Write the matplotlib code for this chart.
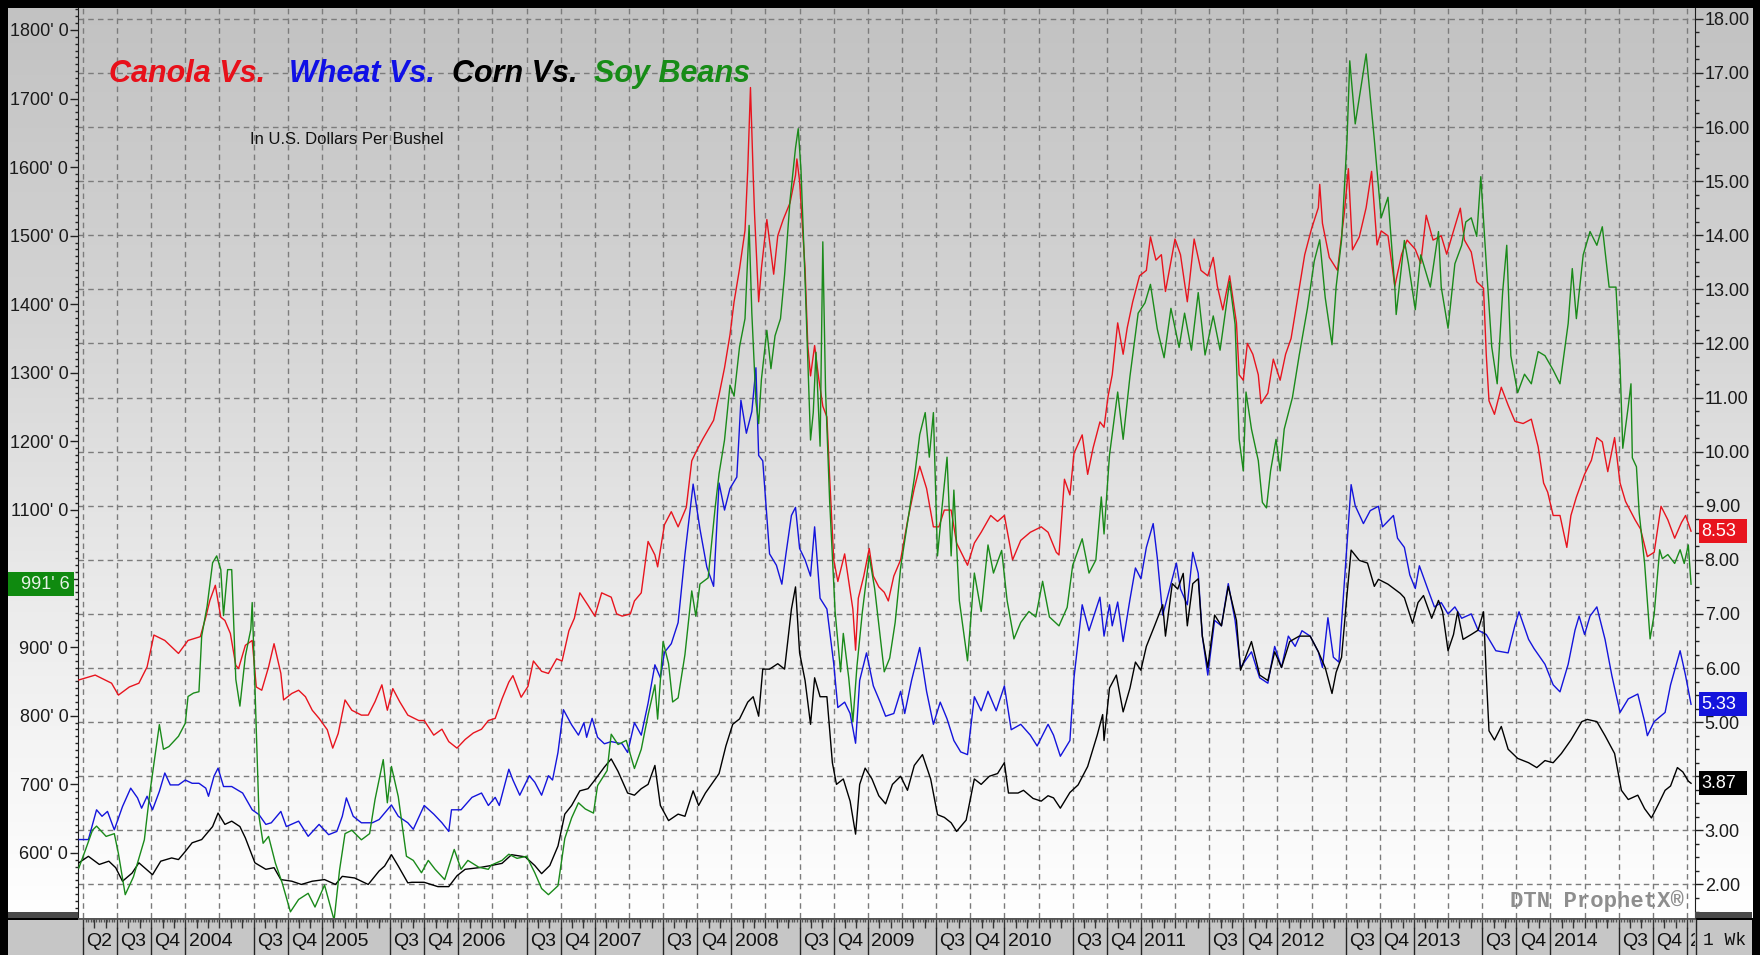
import numpy as np
import matplotlib.pyplot as plt
from matplotlib import font_manager as fm
from matplotlib.patches import Rectangle
from matplotlib.colors import LinearSegmentedColormap
from matplotlib.transforms import blended_transform_factory
from matplotlib.ticker import MultipleLocator, FuncFormatter, FixedLocator


def pick(*names):
    for n in names:
        try:
            fm.findfont(fm.FontProperties(family=n), fallback_to_default=False)
            return n
        except Exception:
            pass
    return 'DejaVu Sans'


NARROW = pick('Liberation Sans Narrow', 'Liberation Sans', 'DejaVu Sans')
MONO = pick('Liberation Mono', 'DejaVu Sans Mono')
plt.rcParams['font.family'] = [NARROW, 'DejaVu Sans']

# ---- data (weekly closes) ----
# canola, USD / bushel (right axis)
canola_t = [2003.22, 2003.34, 2003.46, 2003.51, 2003.59, 2003.66, 2003.72, 2003.77, 2003.85, 2003.95,
            2004.02, 2004.11, 2004.15, 2004.18, 2004.22, 2004.26, 2004.29, 2004.33, 2004.37, 2004.39,
            2004.44, 2004.49, 2004.52, 2004.56, 2004.61, 2004.65, 2004.70, 2004.72, 2004.78, 2004.83,
            2004.88, 2004.93, 2004.98, 2005.04, 2005.08, 2005.12, 2005.17, 2005.22, 2005.29, 2005.34,
            2005.39, 2005.44, 2005.48, 2005.52, 2005.57, 2005.63, 2005.71, 2005.75, 2005.82, 2005.88,
            2005.93, 2005.99, 2006.05, 2006.11, 2006.17, 2006.22, 2006.27, 2006.32, 2006.37, 2006.40,
            2006.46, 2006.51, 2006.55, 2006.61, 2006.66, 2006.72, 2006.76, 2006.81, 2006.85, 2006.89,
            2006.95, 2007.00, 2007.05, 2007.12, 2007.16, 2007.20, 2007.26, 2007.29, 2007.34, 2007.39,
            2007.44, 2007.46, 2007.51, 2007.56, 2007.61, 2007.67, 2007.71, 2007.74, 2007.79, 2007.87,
            2007.91, 2007.95, 2007.99, 2008.02, 2008.06, 2008.10, 2008.12, 2008.14, 2008.16, 2008.17,
            2008.20, 2008.22, 2008.26, 2008.28, 2008.31, 2008.34, 2008.38, 2008.43, 2008.47, 2008.48,
            2008.50, 2008.54, 2008.56, 2008.58, 2008.61, 2008.64, 2008.67, 2008.70, 2008.72, 2008.75,
            2008.78, 2008.83, 2008.86, 2008.89, 2008.91, 2008.93, 2008.97, 2009.01, 2009.04, 2009.08,
            2009.12, 2009.15, 2009.19, 2009.24, 2009.29, 2009.34, 2009.38, 2009.43, 2009.48, 2009.52,
            2009.56, 2009.61, 2009.65, 2009.73, 2009.78, 2009.83, 2009.90, 2009.95, 2010.00, 2010.06,
            2010.12, 2010.19, 2010.27, 2010.32, 2010.38, 2010.40, 2010.44, 2010.48, 2010.51, 2010.57,
            2010.61, 2010.65, 2010.70, 2010.73, 2010.76, 2010.79, 2010.83, 2010.87, 2010.90, 2010.94,
            2010.99, 2011.04, 2011.07, 2011.11, 2011.15, 2011.18, 2011.25, 2011.29, 2011.34, 2011.39,
            2011.44, 2011.49, 2011.53, 2011.56, 2011.60, 2011.65, 2011.70, 2011.72, 2011.75, 2011.78,
            2011.82, 2011.86, 2011.88, 2011.93, 2011.97, 2012.02, 2012.06, 2012.10, 2012.15, 2012.20,
            2012.25, 2012.30, 2012.31, 2012.33, 2012.38, 2012.44, 2012.49, 2012.52, 2012.55, 2012.60,
            2012.65, 2012.69, 2012.73, 2012.76, 2012.81, 2012.86, 2012.91, 2012.95, 2013.01, 2013.05,
            2013.09, 2013.14, 2013.20, 2013.24, 2013.29, 2013.34, 2013.37, 2013.42, 2013.46, 2013.51,
            2013.53, 2013.55, 2013.59, 2013.64, 2013.69, 2013.74, 2013.80, 2013.86, 2013.91, 2013.95,
            2013.98, 2014.02, 2014.07, 2014.12, 2014.15, 2014.19, 2014.25, 2014.30, 2014.34, 2014.38,
            2014.42, 2014.47, 2014.51, 2014.55, 2014.62, 2014.66, 2014.71, 2014.76, 2014.81, 2014.86,
            2014.91, 2014.96, 2014.99, 2015.03]
canola = [5.78, 5.87, 5.72, 5.50, 5.65, 5.72, 6.02, 6.61, 6.51, 6.27,
          6.51, 6.58, 6.94, 7.25, 7.53, 6.94, 6.88, 6.64, 6.05, 5.99,
          6.42, 6.51, 5.65, 5.59, 6.02, 6.45, 5.90, 5.41, 5.53, 5.59,
          5.47, 5.22, 5.07, 4.86, 4.52, 4.79, 5.41, 5.22, 5.13, 5.13,
          5.38, 5.69, 5.22, 5.62, 5.38, 5.13, 5.03, 5.03, 4.76, 4.87,
          4.64, 4.52, 4.68, 4.80, 4.87, 5.03, 5.07, 5.43, 5.74, 5.86,
          5.46, 5.66, 6.13, 5.94, 5.90, 6.17, 6.13, 6.69, 6.92, 7.39,
          7.16, 6.96, 7.39, 7.31, 7.00, 6.96, 7.00, 7.24, 7.39, 8.34,
          8.09, 7.87, 8.65, 8.89, 8.61, 8.97, 9.83, 9.99, 10.23, 10.58,
          11.05, 11.55, 12.16, 12.77, 13.38, 14.09, 15.21, 16.73, 15.11, 14.39,
          12.77, 13.38, 14.29, 13.88, 13.28, 13.99, 14.29, 14.60, 15.11, 15.41,
          15.00, 13.38, 11.96, 11.40, 11.96, 11.35, 10.84, 10.64, 9.53, 8.00,
          7.60, 8.11, 7.60, 7.09, 6.33, 7.29, 7.70, 8.21, 7.70, 7.50,
          7.40, 7.24, 7.70, 8.00, 8.71, 9.32, 9.73, 9.32, 8.61, 8.61,
          8.92, 8.92, 8.31, 7.90, 8.31, 8.51, 8.82, 8.71, 8.82, 8.00,
          8.36, 8.51, 8.61, 8.51, 8.14, 8.09, 9.49, 9.20, 9.97, 10.31,
          9.58, 10.07, 10.55, 10.45, 11.03, 11.42, 12.38, 11.80, 12.29, 12.77,
          13.25, 13.35, 13.97, 13.54, 13.64, 12.96, 13.93, 13.64, 12.77, 13.93,
          13.35, 13.25, 13.59, 13.06, 12.62, 13.25, 12.38, 11.42, 11.32, 12.00,
          11.80, 11.42, 10.89, 11.08, 11.71, 11.32, 11.80, 12.09, 12.86, 13.64,
          14.12, 14.51, 14.94, 14.22, 13.59, 13.35, 14.41, 15.23, 13.73, 13.97,
          14.51, 15.18, 13.82, 14.08, 13.99, 13.06, 13.65, 13.91, 13.74, 13.48,
          14.37, 13.91, 13.99, 13.65, 14.08, 14.50, 13.91, 13.69, 13.14, 13.02,
          11.79, 10.94, 10.69, 11.19, 10.86, 10.56, 10.52, 10.60, 10.09, 9.42,
          9.25, 8.82, 8.82, 8.23, 8.82, 9.16, 9.58, 9.84, 10.26, 10.18,
          9.63, 10.26, 9.42, 9.08, 8.74, 8.57, 8.06, 8.14, 8.99, 8.74,
          8.40, 8.69, 8.82, 8.53]

# wheat, USD / bushel (right axis)
wheat_t = [2003.22, 2003.29, 2003.35, 2003.39, 2003.43, 2003.48, 2003.54, 2003.60, 2003.65, 2003.68,
           2003.72, 2003.76, 2003.81, 2003.85, 2003.89, 2003.95, 2004.00, 2004.05, 2004.10, 2004.15,
           2004.17, 2004.21, 2004.24, 2004.28, 2004.34, 2004.42, 2004.49, 2004.54, 2004.59, 2004.63,
           2004.70, 2004.74, 2004.83, 2004.90, 2004.98, 2005.05, 2005.11, 2005.15, 2005.18, 2005.23,
           2005.29, 2005.37, 2005.42, 2005.46, 2005.51, 2005.56, 2005.63, 2005.67, 2005.75, 2005.82,
           2005.88, 2005.93, 2005.95, 2006.02, 2006.10, 2006.17, 2006.22, 2006.27, 2006.30, 2006.37,
           2006.40, 2006.45, 2006.52, 2006.56, 2006.61, 2006.66, 2006.69, 2006.73, 2006.77, 2006.83,
           2006.88, 2006.92, 2006.94, 2006.98, 2007.02, 2007.07, 2007.12, 2007.20, 2007.24, 2007.29,
           2007.34, 2007.39, 2007.44, 2007.48, 2007.51, 2007.56, 2007.61, 2007.66, 2007.72, 2007.77,
           2007.82, 2007.87, 2007.91, 2007.95, 2007.99, 2008.04, 2008.07, 2008.11, 2008.15, 2008.18,
           2008.20, 2008.23, 2008.28, 2008.33, 2008.37, 2008.40, 2008.44, 2008.47, 2008.50, 2008.54,
           2008.58, 2008.61, 2008.65, 2008.70, 2008.75, 2008.78, 2008.83, 2008.87, 2008.91, 2008.94,
           2008.99, 2009.04, 2009.09, 2009.13, 2009.19, 2009.24, 2009.27, 2009.32, 2009.38, 2009.43,
           2009.48, 2009.53, 2009.58, 2009.63, 2009.68, 2009.73, 2009.78, 2009.83, 2009.88, 2009.94,
           2010.00, 2010.05, 2010.12, 2010.19, 2010.24, 2010.32, 2010.36, 2010.41, 2010.48, 2010.51,
           2010.57, 2010.62, 2010.70, 2010.73, 2010.77, 2010.79, 2010.83, 2010.87, 2010.92, 2010.96,
           2011.00, 2011.04, 2011.09, 2011.12, 2011.16, 2011.22, 2011.26, 2011.29, 2011.34, 2011.38,
           2011.42, 2011.45, 2011.49, 2011.54, 2011.59, 2011.64, 2011.69, 2011.73, 2011.81, 2011.87,
           2011.93, 2011.98, 2012.03, 2012.08, 2012.13, 2012.18, 2012.24, 2012.30, 2012.33, 2012.37,
           2012.41, 2012.45, 2012.49, 2012.54, 2012.57, 2012.63, 2012.68, 2012.74, 2012.77, 2012.85,
           2012.88, 2012.93, 2012.97, 2013.01, 2013.04, 2013.10, 2013.15, 2013.20, 2013.25, 2013.30,
           2013.35, 2013.42, 2013.47, 2013.53, 2013.60, 2013.69, 2013.74, 2013.77, 2013.84, 2013.88,
           2013.96, 2014.02, 2014.07, 2014.13, 2014.18, 2014.21, 2014.25, 2014.29, 2014.34, 2014.40,
           2014.45, 2014.51, 2014.57, 2014.64, 2014.69, 2014.71, 2014.76, 2014.84, 2014.88, 2014.95,
           2014.99, 2015.03]
wheat = [2.83, 2.83, 3.38, 3.26, 3.35, 3.01, 3.44, 3.78, 3.60, 3.41,
         3.63, 3.38, 3.72, 4.06, 3.84, 3.84, 3.93, 3.87, 3.87, 3.78,
         3.63, 4.00, 4.15, 3.81, 3.81, 3.69, 3.38, 3.29, 3.11, 3.14,
         3.35, 3.07, 3.17, 2.89, 3.11, 2.92, 2.98, 3.26, 3.60, 3.26,
         3.14, 3.14, 3.20, 3.32, 3.47, 3.26, 3.14, 3.02, 3.46, 3.30,
         3.14, 2.98, 3.38, 3.38, 3.61, 3.69, 3.46, 3.61, 3.46, 4.13,
         3.93, 3.65, 4.01, 3.89, 3.65, 4.01, 3.93, 4.44, 5.23, 4.95,
         4.76, 4.99, 4.72, 5.07, 4.72, 4.60, 4.64, 4.60, 4.44, 4.99,
         4.76, 5.35, 6.06, 5.82, 6.29, 6.45, 6.84, 8.10, 9.40, 8.57,
         7.87, 7.51, 9.42, 8.92, 9.32, 9.53, 10.95, 10.34, 10.74, 11.55,
         9.93, 9.83, 8.11, 7.90, 7.55, 8.11, 8.82, 8.97, 8.21, 8.00,
         7.70, 8.61, 7.29, 7.09, 6.08, 5.27, 5.37, 5.16, 4.61, 5.77,
         6.28, 5.67, 5.37, 5.11, 5.16, 5.57, 5.16, 5.77, 6.38, 5.57,
         4.96, 5.37, 5.06, 4.66, 4.45, 4.40, 5.47, 5.21, 5.57, 5.21,
         5.67, 4.86, 4.96, 4.76, 4.56, 4.96, 4.76, 4.37, 4.66, 5.82,
         7.17, 6.69, 7.31, 6.59, 7.17, 6.78, 7.22, 6.49, 7.27, 7.85,
         7.65, 8.23, 8.67, 8.04, 6.98, 7.56, 7.94, 7.46, 7.17, 8.14,
         7.75, 6.59, 5.87, 6.88, 6.78, 7.56, 6.88, 6.01, 6.30, 5.82,
         5.72, 6.40, 6.01, 6.59, 6.40, 6.69, 6.59, 6.30, 6.01, 6.93,
         6.20, 6.11, 7.56, 9.39, 9.00, 8.67, 8.91, 8.99, 8.61, 8.82,
         8.40, 8.23, 7.72, 7.47, 7.89, 7.47, 7.13, 7.21, 7.00, 7.13,
         6.92, 7.00, 6.70, 6.62, 6.32, 6.28, 6.79, 7.04, 6.53, 6.36,
         6.07, 5.69, 5.56, 6.07, 6.70, 6.96, 6.62, 6.96, 7.13, 6.53,
         5.86, 5.18, 5.43, 5.52, 5.01, 4.75, 5.01, 5.18, 5.69, 6.32,
         5.86, 5.33]

# corn, USD / bushel (right axis)
corn_t = [2003.22, 2003.29, 2003.37, 2003.44, 2003.49, 2003.54, 2003.61, 2003.66, 2003.76, 2003.82,
          2003.90, 2003.95, 2004.00, 2004.05, 2004.12, 2004.20, 2004.24, 2004.29, 2004.34, 2004.40,
          2004.44, 2004.51, 2004.59, 2004.65, 2004.70, 2004.78, 2004.85, 2004.93, 2005.02, 2005.10,
          2005.15, 2005.24, 2005.34, 2005.42, 2005.46, 2005.51, 2005.56, 2005.63, 2005.66, 2005.75,
          2005.85, 2005.93, 2005.99, 2006.05, 2006.15, 2006.24, 2006.32, 2006.39, 2006.49, 2006.56,
          2006.61, 2006.67, 2006.73, 2006.78, 2006.83, 2006.89, 2006.95, 2007.00, 2007.07, 2007.12,
          2007.17, 2007.24, 2007.29, 2007.34, 2007.39, 2007.44, 2007.48, 2007.54, 2007.61, 2007.66,
          2007.72, 2007.76, 2007.81, 2007.91, 2007.96, 2008.01, 2008.06, 2008.12, 2008.16, 2008.20,
          2008.23, 2008.28, 2008.34, 2008.39, 2008.44, 2008.47, 2008.50, 2008.54, 2008.58, 2008.61,
          2008.65, 2008.70, 2008.74, 2008.77, 2008.82, 2008.87, 2008.91, 2008.94, 2008.98, 2009.03,
          2009.08, 2009.13, 2009.18, 2009.24, 2009.29, 2009.34, 2009.40, 2009.46, 2009.51, 2009.56,
          2009.61, 2009.65, 2009.72, 2009.78, 2009.83, 2009.89, 2009.95, 2010.00, 2010.03, 2010.10,
          2010.14, 2010.21, 2010.27, 2010.32, 2010.36, 2010.41, 2010.48, 2010.54, 2010.61, 2010.68,
          2010.72, 2010.73, 2010.77, 2010.82, 2010.87, 2010.92, 2010.96, 2011.00, 2011.04, 2011.10,
          2011.16, 2011.18, 2011.23, 2011.27, 2011.31, 2011.34, 2011.38, 2011.42, 2011.45, 2011.49,
          2011.54, 2011.59, 2011.64, 2011.70, 2011.73, 2011.81, 2011.87, 2011.93, 2011.98, 2012.03,
          2012.09, 2012.16, 2012.24, 2012.30, 2012.35, 2012.40, 2012.43, 2012.47, 2012.51, 2012.54,
          2012.60, 2012.66, 2012.71, 2012.74, 2012.81, 2012.90, 2012.93, 2012.99, 2013.03, 2013.07,
          2013.13, 2013.18, 2013.21, 2013.25, 2013.29, 2013.32, 2013.36, 2013.42, 2013.47, 2013.51,
          2013.53, 2013.55, 2013.59, 2013.64, 2013.69, 2013.76, 2013.84, 2013.90, 2013.96, 2014.02,
          2014.08, 2014.15, 2014.23, 2014.27, 2014.34, 2014.40, 2014.47, 2014.52, 2014.57, 2014.64,
          2014.69, 2014.74, 2014.79, 2014.84, 2014.88, 2014.93, 2014.97, 2015.01, 2015.03]
corn = [2.40, 2.52, 2.37, 2.43, 2.31, 2.06, 2.21, 2.40, 2.18, 2.43,
        2.49, 2.46, 2.61, 2.77, 2.83, 3.07, 3.32, 3.11, 3.17, 3.07,
        2.86, 2.40, 2.28, 2.31, 2.09, 2.06, 2.00, 2.06, 2.09, 2.00,
        2.15, 2.12, 2.00, 2.25, 2.34, 2.55, 2.34, 2.03, 2.04, 2.04,
        1.96, 1.96, 2.16, 2.28, 2.31, 2.35, 2.39, 2.55, 2.51, 2.35,
        2.20, 2.35, 2.71, 3.30, 3.46, 3.73, 3.77, 3.93, 4.17, 4.32,
        4.09, 3.69, 3.65, 3.77, 3.85, 4.20, 3.46, 3.18, 3.30, 3.26,
        3.73, 3.46, 3.69, 4.05, 4.56, 4.96, 5.06, 5.37, 5.47, 5.11,
        5.98, 5.98, 6.08, 5.98, 7.09, 7.50, 6.28, 5.77, 4.96, 5.82,
        5.47, 5.47, 4.25, 3.85, 3.95, 3.54, 2.93, 3.85, 4.15, 3.95,
        3.64, 3.49, 3.85, 4.00, 3.74, 4.20, 4.40, 3.95, 3.29, 3.24,
        3.14, 2.98, 3.19, 3.95, 3.85, 4.00, 4.05, 4.25, 3.69, 3.69,
        3.74, 3.59, 3.54, 3.64, 3.60, 3.41, 3.70, 3.84, 4.18, 4.76,
        5.14, 4.66, 5.63, 5.87, 5.19, 5.63, 6.11, 5.96, 6.40, 6.78,
        7.17, 6.59, 7.56, 7.46, 7.75, 6.78, 7.56, 7.65, 6.59, 6.01,
        6.98, 6.78, 7.51, 6.88, 5.96, 6.49, 5.87, 5.77, 6.30, 6.01,
        6.49, 6.59, 6.59, 6.30, 6.01, 5.53, 5.92, 6.20, 7.36, 8.18,
        7.99, 7.94, 7.51, 7.64, 7.55, 7.38, 7.30, 6.83, 7.21, 7.34,
        6.92, 7.25, 7.04, 6.32, 6.62, 7.04, 6.53, 6.62, 6.70, 7.04,
        5.86, 4.84, 4.67, 4.92, 4.50, 4.33, 4.25, 4.16, 4.29, 4.25,
        4.42, 4.67, 5.01, 5.05, 5.01, 4.75, 4.42, 3.74, 3.57, 3.65,
        3.40, 3.23, 3.48, 3.74, 3.82, 4.16, 4.08, 3.91, 3.87]

# soybeans, cents / bushel (left axis)
soy_t = [2003.22, 2003.27, 2003.32, 2003.35, 2003.42, 2003.48, 2003.51, 2003.56, 2003.62, 2003.70,
         2003.74, 2003.81, 2003.84, 2003.88, 2003.95, 2004.00, 2004.02, 2004.06, 2004.10, 2004.12,
         2004.16, 2004.20, 2004.23, 2004.26, 2004.28, 2004.31, 2004.34, 2004.37, 2004.40, 2004.44,
         2004.48, 2004.49, 2004.51, 2004.54, 2004.57, 2004.61, 2004.66, 2004.71, 2004.77, 2004.83,
         2004.90, 2004.95, 2005.02, 2005.09, 2005.13, 2005.17, 2005.22, 2005.29, 2005.35, 2005.39,
         2005.45, 2005.48, 2005.51, 2005.56, 2005.62, 2005.67, 2005.73, 2005.78, 2005.83, 2005.90,
         2005.97, 2006.02, 2006.07, 2006.15, 2006.22, 2006.24, 2006.32, 2006.37, 2006.43, 2006.50,
         2006.56, 2006.61, 2006.66, 2006.73, 2006.78, 2006.83, 2006.88, 2006.93, 2006.99, 2007.02,
         2007.09, 2007.12, 2007.17, 2007.23, 2007.29, 2007.34, 2007.39, 2007.44, 2007.46, 2007.50,
         2007.54, 2007.57, 2007.61, 2007.66, 2007.71, 2007.74, 2007.77, 2007.83, 2007.88, 2007.91,
         2007.95, 2007.99, 2008.02, 2008.06, 2008.10, 2008.13, 2008.15, 2008.18, 2008.20, 2008.22,
         2008.26, 2008.29, 2008.32, 2008.36, 2008.39, 2008.43, 2008.47, 2008.49, 2008.51, 2008.54,
         2008.58, 2008.60, 2008.62, 2008.65, 2008.67, 2008.69, 2008.72, 2008.76, 2008.80, 2008.82,
         2008.86, 2008.89, 2008.92, 2008.96, 2009.01, 2009.05, 2009.12, 2009.16, 2009.20, 2009.24,
         2009.29, 2009.34, 2009.38, 2009.42, 2009.45, 2009.48, 2009.51, 2009.54, 2009.58, 2009.61,
         2009.63, 2009.67, 2009.73, 2009.78, 2009.83, 2009.88, 2009.92, 2009.98, 2010.02, 2010.07,
         2010.12, 2010.18, 2010.23, 2010.28, 2010.33, 2010.40, 2010.46, 2010.50, 2010.57, 2010.62,
         2010.67, 2010.71, 2010.73, 2010.77, 2010.83, 2010.87, 2010.92, 2010.98, 2011.03, 2011.07,
         2011.12, 2011.17, 2011.22, 2011.28, 2011.32, 2011.37, 2011.42, 2011.47, 2011.53, 2011.58,
         2011.65, 2011.69, 2011.72, 2011.75, 2011.77, 2011.81, 2011.86, 2011.89, 2011.92, 2011.95,
         2011.99, 2012.02, 2012.05, 2012.11, 2012.16, 2012.22, 2012.27, 2012.31, 2012.35, 2012.40,
         2012.43, 2012.47, 2012.51, 2012.53, 2012.57, 2012.60, 2012.65, 2012.71, 2012.76, 2012.81,
         2012.86, 2012.87, 2012.93, 2012.96, 2013.01, 2013.05, 2013.12, 2013.18, 2013.20, 2013.25,
         2013.30, 2013.35, 2013.38, 2013.42, 2013.46, 2013.49, 2013.53, 2013.57, 2013.61, 2013.65,
         2013.68, 2013.71, 2013.76, 2013.81, 2013.86, 2013.91, 2013.96, 2014.02, 2014.07, 2014.13,
         2014.16, 2014.19, 2014.24, 2014.29, 2014.34, 2014.38, 2014.43, 2014.48, 2014.51, 2014.53,
         2014.57, 2014.59, 2014.60, 2014.63, 2014.65, 2014.69, 2014.73, 2014.76, 2014.80, 2014.82,
         2014.86, 2014.91, 2014.95, 2014.98, 2015.01, 2015.03]
soy = [578, 605, 633, 639, 624, 628, 599, 539, 565, 619,
       687, 787, 751, 755, 770, 789, 828, 833, 835, 916,
       960, 1023, 1033, 1013, 946, 1013, 1013, 853, 814, 887,
       926, 965, 843, 653, 614, 624, 585, 556, 514, 532,
       541, 521, 553, 502, 575, 628, 633, 619, 628, 678,
       736, 673, 726, 682, 595, 589, 571, 589, 576, 561,
       605, 576, 589, 579, 576, 582, 589, 598, 592, 595,
       571, 548, 539, 552, 621, 651, 673, 664, 658, 698,
       720, 773, 758, 764, 723, 751, 801, 845, 795, 908,
       876, 820, 826, 889, 982, 945, 992, 1001, 1101, 1153,
       1202, 1282, 1266, 1338, 1379, 1515, 1387, 1258, 1226, 1290,
       1362, 1306, 1354, 1379, 1443, 1552, 1628, 1656, 1596, 1435,
       1202, 1242, 1330, 1193, 1491, 1274, 1113, 952, 864, 920,
       855, 791, 872, 952, 1033, 985, 864, 884, 936, 1016,
       1081, 1146, 1210, 1242, 1177, 1242, 1033, 1097, 1177, 1033,
       1129, 968, 880, 1008, 952, 1049, 1008, 1041, 968, 912,
       936, 952, 944, 996, 944, 931, 958, 1019, 1058, 1008,
       1027, 1119, 1065, 1180, 1272, 1203, 1295, 1387, 1402, 1429,
       1364, 1322, 1394, 1337, 1387, 1333, 1417, 1326, 1383, 1333,
       1433, 1371, 1203, 1157, 1272, 1218, 1172, 1111, 1103, 1157,
       1203, 1157, 1218, 1264, 1326, 1394, 1463, 1494, 1410, 1341,
       1425, 1494, 1640, 1755, 1663, 1701, 1765, 1640, 1526, 1556,
       1425, 1385, 1493, 1459, 1392, 1472, 1425, 1506, 1425, 1365,
       1459, 1486, 1520, 1526, 1499, 1586, 1459, 1338, 1284, 1418,
       1486, 1325, 1271, 1298, 1284, 1331, 1325, 1304, 1284, 1372,
       1452, 1379, 1472, 1506, 1486, 1513, 1425, 1425, 1311, 1190,
       1251, 1284, 1176, 1163, 1096, 1022, 912, 948, 1042, 1029,
       1035, 1022, 1042, 1022, 1049, 991.75]

years = list(range(2004, 2016))
title_parts = [('Canola Vs.', '#e8101a'), ('Wheat Vs.', '#1010e6'),
               ('Corn Vs.', '#000000'), ('Soy Beans', '#178c17')]

RED, BLUE, BLACK, GREEN = '#e8141e', '#1414dc', '#000000', '#1a8a1a'

W, H = 1760, 955


def fx(px):
    return px / W


def fy(py):
    return 1 - py / H


fig = plt.figure(figsize=(W / 100, H / 100), dpi=100)
fig.patch.set_facecolor('black')

# gradient backdrop behind panels and plot
bg = fig.add_axes([fx(8), fy(918), fx(1752) - fx(8), fy(8) - fy(918)])
cmap = LinearSegmentedColormap.from_list('bg', ['#c2c2c2', '#d4d4d4', '#ececec', '#ffffff'])
bg.imshow(np.linspace(0, 1, 256).reshape(-1, 1), aspect='auto', cmap=cmap,
          extent=[0, 1, 0, 1], origin='upper')
bg.axis('off')

# main plot: dollars on the right, cents (soy) on the left
ax = fig.add_axes([fx(78), fy(918), fx(1695) - fx(78), fy(8) - fy(918)])
ax.set_facecolor('none')
ax.set_xlim(2003.214, 2015.059)
ax.set_ylim(1.38, 18.2)
quarters = np.arange(2003.25, 2015.01, 0.25)
ax.xaxis.set_major_locator(FixedLocator(quarters))
ax.tick_params(axis='x', length=0, labelbottom=False)
ax.grid(True, which='major', color='#7c7c7c', linestyle=(0, (4, 3)), linewidth=1.0)
for s in ('top', 'bottom'):
    ax.spines[s].set_visible(False)
for s in ('left', 'right'):
    ax.spines[s].set_color('#1e1e1e')

ax.plot(canola_t, canola, color=RED, lw=1.0, zorder=3)
ax.plot(wheat_t, wheat, color=BLUE, lw=1.0, zorder=3)
ax.plot(corn_t, corn, color=BLACK, lw=1.0, zorder=3)

ax2 = ax.twinx()
ax2.set_ylim(505, 1832)
ax2.plot(soy_t, soy, color=GREEN, lw=1.0, zorder=3)
for s in ax2.spines.values():
    s.set_visible(False)

last_right = [canola[-1], wheat[-1], corn[-1]]


def right_fmt(v, p):
    # the last-value boxes sit on top of the scale and hide nearby labels
    if any(abs(v - b) < 0.3 for b in last_right):
        return ''
    return f'{v:.2f}'


def left_fmt(v, p):
    if abs(v - soy[-1]) < 30:
        return ''
    return f"{int(v)}' 0"


# dollar scale on the right, cents scale on the left
ax.yaxis.tick_right()
ax.yaxis.set_major_locator(MultipleLocator(1))
ax.yaxis.set_minor_locator(MultipleLocator(0.25))
ax.yaxis.set_major_formatter(FuncFormatter(right_fmt))
ax.tick_params(axis='y', which='major', direction='out', length=6, width=1, color='#222222',
               labelsize=13, labelcolor='#1a1a1a', pad=1, left=False, labelleft=False,
               right=True, labelright=True)
ax.tick_params(axis='y', which='minor', direction='out', length=3, width=1, color='#222222',
               left=False, right=True)

ax2.yaxis.tick_left()
ax2.yaxis.set_major_locator(MultipleLocator(100))
ax2.yaxis.set_minor_locator(MultipleLocator(10))
ax2.yaxis.set_major_formatter(FuncFormatter(left_fmt))
ax2.tick_params(axis='y', which='major', direction='out', length=6, width=1, color='#222222',
                labelsize=13, labelcolor='#1a1a1a', pad=1, right=False, labelright=False,
                left=True, labelleft=True)
ax2.tick_params(axis='y', which='minor', direction='out', length=2, width=1, color='#222222',
                right=False, left=True)
ax2.tick_params(axis='x', length=0, labelbottom=False, labeltop=False)

# title and subtitle
xpos = [109, 289, 452, 594]
for (txt, col), x0 in zip(title_parts, xpos):
    fig.text(fx(x0), fy(82), txt, color=col, fontsize=22, fontweight='bold',
             fontstyle='italic', ha='left', va='baseline')
fig.text(fx(250), fy(139), 'In U.S. Dollars Per Bushel', fontsize=12, color='#111111',
         ha='left', va='center')
fig.text(fx(1684), fy(901), 'DTN ProphetX®', fontsize=16, color='#8e8e8e', ha='right',
         va='center', family=[MONO, 'DejaVu Sans Mono'], fontweight='bold')

# last-value boxes
tr_r = blended_transform_factory(fig.transFigure, ax.transData)
for v, col in zip(last_right, (RED, BLUE, BLACK)):
    fig.add_artist(Rectangle((fx(1699), v - 0.22), fx(1747) - fx(1699), 0.44,
                             transform=tr_r, facecolor=col, edgecolor='none', zorder=5))
    fig.text(fx(1701), v, f'{v:.2f}', transform=tr_r, color='white', fontsize=13,
             ha='left', va='center', zorder=6)
tr_l = blended_transform_factory(fig.transFigure, ax2.transData)
sv = soy[-1]
fig.add_artist(Rectangle((fx(8), sv - 17.5), fx(74) - fx(8), 35, transform=tr_l,
                         facecolor='#0f8a0f', edgecolor='none', zorder=5))
fig.text(fx(70), sv, f"{int(sv)}' {int(round((sv - int(sv)) * 8))}", transform=tr_l,
         color='#e6f0e6', fontsize=13, ha='right', va='center', zorder=6)

# dark strips at the foot of the side panels
for x0, x1 in ((8, 78), (1695, 1752)):
    fig.add_artist(Rectangle((fx(x0), fy(918)), fx(x1) - fx(x0), 6 / H,
                             facecolor='#4a4a4a', edgecolor='none', zorder=4))

# time band
band = fig.add_axes([fx(78), 0, fx(1695) - fx(78), fy(918)])
band.set_facecolor('#c6c6c6')
band.set_xlim(ax.get_xlim())
band.set_ylim(0, 1)
band.set_yticks([])
band.xaxis.tick_top()
weeks = np.arange(2003.25, 2015.06, 1 / 52)
months = np.arange(2003.25, 2015.06, 1 / 12)
band.xaxis.set_major_locator(FixedLocator(months))
band.xaxis.set_minor_locator(FixedLocator(weeks))
band.tick_params(axis='x', which='major', direction='in', length=7, width=1, color='#333333',
                 labeltop=False, labelbottom=False)
band.tick_params(axis='x', which='minor', direction='in', length=3, width=1, color='#555555')
for s in band.spines.values():
    s.set_visible(False)
band.axhline(1, color='#555555', lw=2)

seps, labs = [2003.25, 2003.5, 2003.75], ['Q2', 'Q3', 'Q4']
for y in years:
    seps += [y]
    # the last year label is cut off by the right edge of the chart
    labs += [str(y) if y < years[-1] else str(y)[:1]]
    if y < years[-1]:
        seps += [y + 0.5, y + 0.75]
        labs += ['Q3', 'Q4']
for s, l in zip(seps, labs):
    band.plot([s, s], [0, 0.72], color='#222222', lw=1)
    band.text(s + 0.025, 0.36, l, fontsize=14, color='#111111', ha='left', va='center',
              clip_on=True)

for x0, x1 in ((8, 78), (1695, 1752)):
    fig.add_artist(Rectangle((fx(x0), 0), fx(x1) - fx(x0), fy(918) - 0.002,
                             facecolor='#c6c6c6', edgecolor='none', zorder=4))
fig.add_artist(plt.Line2D([fx(1696), fx(1696)], [0, fy(920)], color='#222222', lw=1, zorder=5))
fig.text(fx(1724), fy(940), '1 Wk', fontsize=13, ha='center', va='center',
         family=[MONO, 'DejaVu Sans Mono'], color='#111111', zorder=6)

fig.savefig('out.png', dpi=100, facecolor=fig.get_facecolor())
